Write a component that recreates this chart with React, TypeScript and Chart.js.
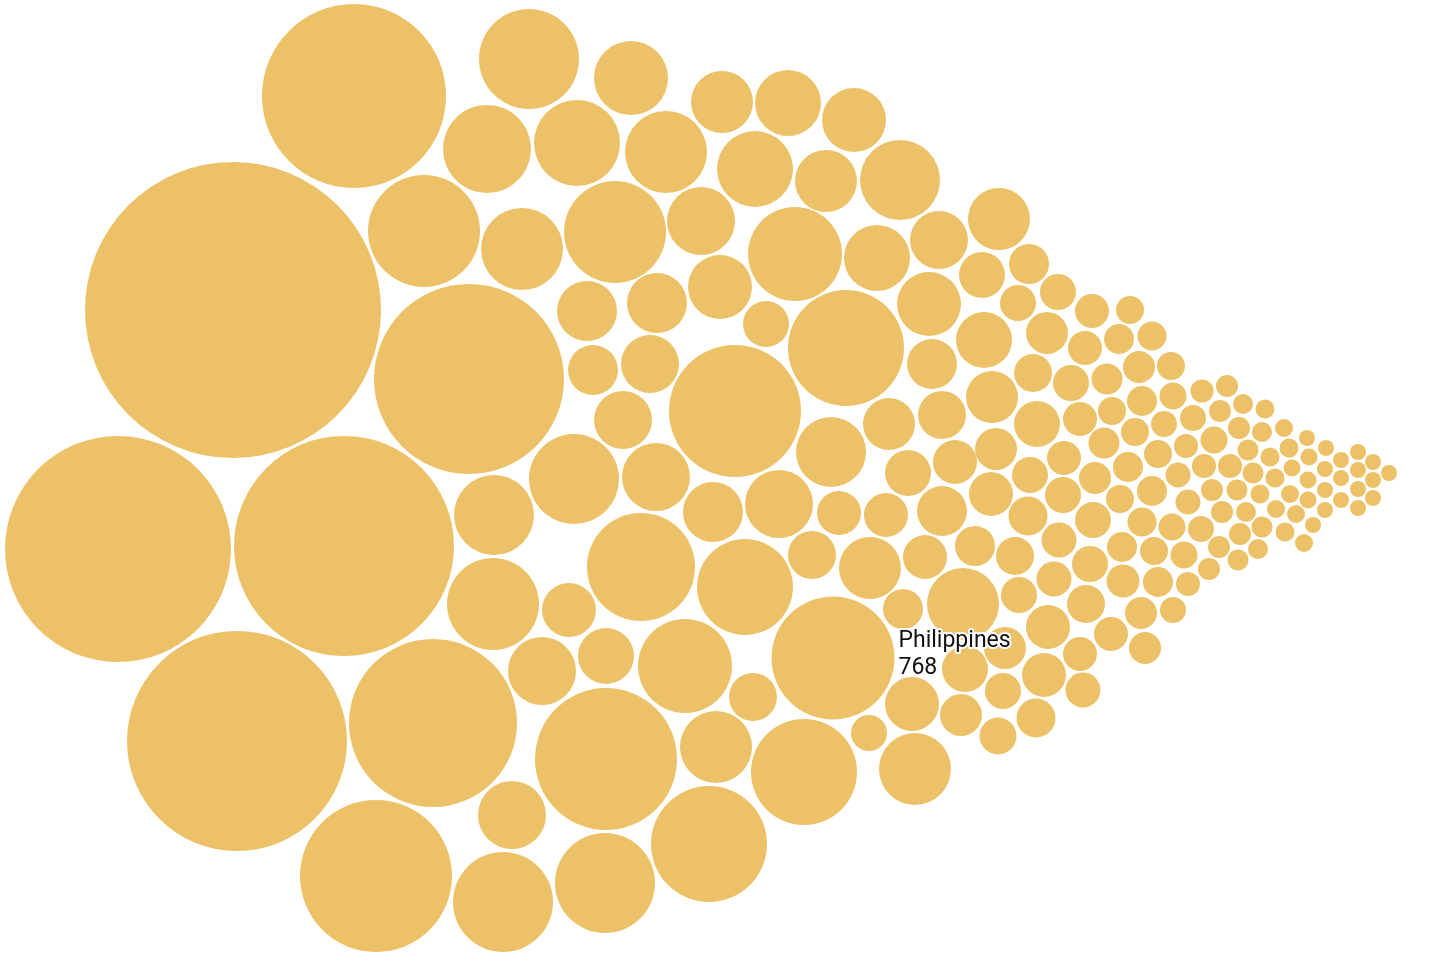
import React, { useEffect, useRef } from "react";
import { Chart, registerables } from "chart.js";

Chart.register(...registerables);

// Packed-bubble layout (x, y in layout units, r = bubble radius)
const bubbleX = [
  233, 354, 118, 344, 237, 376, 433, 469, 424,
  529, 631, 722, 487, 577, 666, 755, 522, 615, 701, 795, 587, 657, 720, 766,
  593, 650, 623, 735, 574, 656, 494, 713, 641, 745, 493, 569, 779,
  542, 606, 685, 753, 606, 716, 512, 503, 605, 709, 804,
  788, 854, 826, 900, 877, 939, 999, 929, 982, 846, 984,
  1029, 1018, 1058, 1092, 1130, 1047, 1085, 1119, 1152, 1033, 1071, 1107, 1139, 1171, 992, 1142, 1173,
  932, 889, 942, 831, 908, 955, 839, 886, 942, 975, 812, 870, 925, 963,
  833, 869, 912, 915, 903, 965, 961,
  1037, 1080, 1112, 1164, 1193, 996, 991, 1030, 1064, 1104, 1135, 1158, 1186,
  1063, 1095, 1120, 1128, 1152, 1178, 1188, 1028, 1093, 1142, 1172, 1201,
  1015, 1059, 1090, 1122, 1154, 1184, 1188, 1158, 1123, 1086, 1054, 1019,
  1048, 1141, 1173, 1111, 1145, 1080, 1005, 1044, 1003, 1083, 1036, 998,
  1202, 1227, 1243, 1265, 1220, 1239, 1262, 1284, 1307, 1214, 1248, 1270, 1289, 1309, 1326,
  1341, 1358, 1373, 1389, 1373, 1373, 1358, 1358, 1358, 1341, 1341, 1325, 1325, 1325,
  1308, 1308, 1313, 1304, 1292, 1290, 1296, 1285, 1275, 1276, 1260, 1262, 1258, 1253, 1246,
  1240, 1238, 1237, 1230, 1204, 1212, 1222, 1219, 1209,
];

const bubbleY = [
  310, 96, 549, 546, 741, 876, 723, 379, 231,
  59, 78, 102, 149, 143, 152, 169, 249, 232, 221, 254, 311, 303, 287, 324,
  370, 364, 420, 411, 479, 477, 515, 512, 567, 587, 604, 610, 504,
  671, 656, 666, 697, 759, 747, 815, 902, 883, 844, 772,
  103, 120, 181, 180, 258, 240, 219, 304, 275, 348, 340,
  264, 303, 292, 311, 310, 333, 348, 339, 336, 373, 383, 379, 367, 366, 397, 401, 396,
  364, 424, 415, 452, 473, 462, 513, 515, 511, 546, 555, 568, 557, 604,
  658, 733, 704, 769, 609, 669, 715,
  424, 419, 411, 424, 418, 449, 494, 475, 458, 443, 432, 454, 446,
  495, 478, 499, 467, 491, 475, 502, 516, 520, 522, 527, 529,
  556, 540, 564, 547, 551, 555, 584, 582, 581, 604, 579, 595,
  627, 613, 610, 634, 648, 654, 648, 675, 691, 690, 718, 736,
  391, 386, 404, 409, 411, 428, 432, 428, 438, 440, 450, 457, 448, 457, 448,
  460, 452, 462, 473, 480, 498, 470, 489, 508, 478, 500, 469, 490, 510,
  480, 500, 525, 543, 468, 494, 514, 532, 478, 509, 494, 527, 549, 473, 512,
  534, 560, 490, 466, 466, 490, 512, 547, 569,
];

const bubbleR = [
  148, 92, 113, 110, 110, 76, 84, 95, 56,
  50, 37, 31, 44, 43, 41, 38, 41, 51, 34, 47, 30, 30, 32, 23,
  25, 29, 29, 66, 45, 34, 40, 30, 54, 48, 46, 27, 34,
  34, 28, 47, 24, 71, 36, 34, 50, 50, 58, 53,
  33, 32, 31, 40, 33, 29, 31, 32, 23, 58, 28,
  20, 18, 18, 17, 14, 21, 17, 15, 14.5, 19, 18, 15.5, 16, 14, 26, 15, 13.5,
  25, 26, 24, 35, 23, 22, 22, 22, 25, 20, 24, 31, 22, 36,
  61.5, 18, 27, 36, 20, 23, 21,
  23, 17, 14, 13, 13, 21, 22, 18, 17, 15.5, 14, 14, 12,
  18, 16, 14, 15, 15, 12.5, 12.5, 19.5, 18, 14.5, 13.5, 13,
  19, 17.5, 18, 15, 14, 13.5, 12, 15, 16.5, 19, 17.5, 18,
  22, 16, 13, 17, 16, 17, 21, 22, 18, 17.5, 19.5, 18.5,
  11.5, 11, 10, 9.5, 11, 11, 10, 9, 8, 13.5, 10.5, 9.5, 9.5, 8.5, 8,
  8, 8, 8, 8, 8, 8, 8, 8, 8, 8, 8, 8, 8, 8,
  8.5, 8.5, 8, 9, 8.5, 9, 9, 9.5, 9.5, 9, 9.5, 10.5, 10, 10.5, 10,
  11, 10.5, 10.5, 12, 12, 11, 11, 11, 11,
];

// Highlighted bubble label
const labelIndex = 90;
const labelName = "Philippines";
const labelValue = "768";

const BUBBLE_COLOR = "#EDC167";

const labelPlugin = {
  id: "bubbleLabel",
  afterDatasetsDraw(chart: any) {
    const meta = chart.getDatasetMeta(0);
    const el = meta.data[labelIndex];
    if (!el) return;
    const r = bubbleR[labelIndex];
    const ctx = chart.ctx;
    ctx.save();
    ctx.font = '23px Roboto, "Noto Sans", sans-serif';
    ctx.textAlign = "left";
    ctx.textBaseline = "alphabetic";
    ctx.lineJoin = "round";
    ctx.lineWidth = 4;
    ctx.strokeStyle = "#ffffff";
    ctx.fillStyle = "#111111";
    const x = el.x + r + 4;
    const lines: [string, number][] = [
      [labelName, el.y - 11],
      [labelValue, el.y + 16],
    ];
    for (const [t, y] of lines) {
      ctx.strokeText(t, x, y);
      ctx.fillText(t, x, y);
    }
    ctx.restore();
  },
};

export default function App() {
  const canvasRef = useRef<HTMLCanvasElement | null>(null);

  useEffect(() => {
    const canvas = canvasRef.current;
    if (!canvas) return;
    const chart = new Chart(canvas, {
      type: "bubble",
      data: {
        datasets: [
          {
            data: bubbleX.map((x, i) => ({ x, y: bubbleY[i], r: bubbleR[i] })),
            backgroundColor: BUBBLE_COLOR,
            borderWidth: 0,
            hoverRadius: 0,
            clip: false,
          } as any,
        ],
      },
      options: {
        responsive: false,
        animation: false,
        events: [],
        layout: { padding: 0, autoPadding: false },
        scales: {
          x: { type: "linear", min: 0, max: 1444, display: false },
          y: { type: "linear", min: 0, max: 964, reverse: true, display: false },
        },
        plugins: {
          legend: { display: false },
          tooltip: { enabled: false },
        },
      },
      plugins: [labelPlugin],
    });
    return () => chart.destroy();
  }, []);

  return (
    <div style={{ position: "fixed", left: 0, top: 0, width: 1444, height: 964, background: "#ffffff" }}>
      <canvas ref={canvasRef} width={1444} height={964} style={{ display: "block" }} />
    </div>
  );
}
